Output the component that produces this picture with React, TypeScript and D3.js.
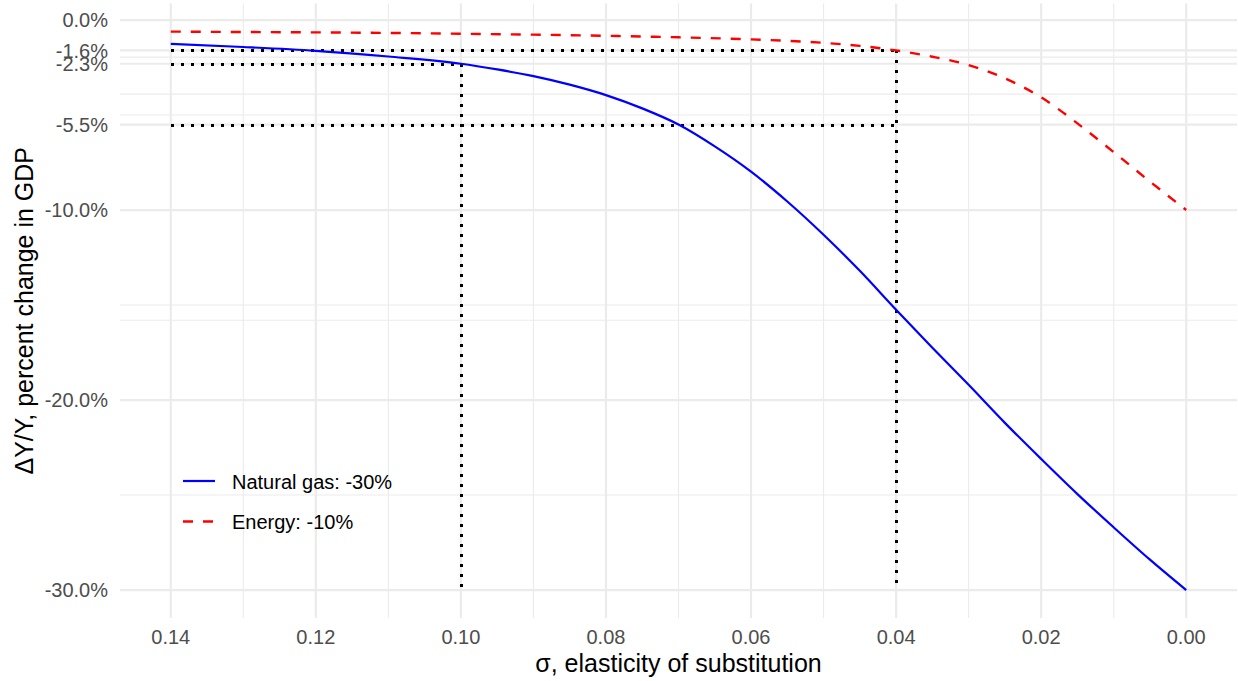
import React from "react";
import * as d3 from "d3";

// ---- data ----
const sigmaGas = [0.14, 0.13, 0.12, 0.11, 0.1, 0.095, 0.09, 0.085, 0.08, 0.075, 0.07, 0.065, 0.06, 0.055, 0.05, 0.045, 0.04, 0.035, 0.03, 0.025, 0.02, 0.015, 0.01, 0.005, 0.0];
const gasValues = [-1.26, -1.42, -1.62, -1.92, -2.3, -2.6, -2.95, -3.4, -3.95, -4.65, -5.5, -6.65, -7.98, -9.55, -11.3, -13.2, -15.25, -17.25, -19.2, -21.2, -23.1, -24.95, -26.7, -28.4, -30.0];

const sigmaEnergy = [0.14, 0.13, 0.12, 0.11, 0.1, 0.09, 0.08, 0.07, 0.06, 0.05, 0.045, 0.04, 0.035, 0.03, 0.025, 0.02, 0.015, 0.01, 0.005, 0.0];
const energyValues = [-0.61, -0.63, -0.65, -0.68, -0.72, -0.77, -0.83, -0.91, -1.02, -1.2, -1.36, -1.6, -1.93, -2.37, -3.07, -4.07, -5.44, -6.95, -8.5, -10.0];

const seriesLabels = ["Natural gas: -30%", "Energy: -10%"];

// y axis breaks, in the order given (minor grid = midpoints between consecutive)
const yBreaks = [0, -10, -20, -30, -1.6, -2.3, -5.5];
const xBreaks = [0.14, 0.12, 0.1, 0.08, 0.06, 0.04, 0.02, 0.0];
const xMinor = [0.13, 0.11, 0.09, 0.07, 0.05, 0.03, 0.01];

// reference segments: [x0, y0, x1, y1]
const refH = [
  [0.14, -1.6, 0.04, -1.6],
  [0.14, -2.3, 0.1, -2.3],
  [0.14, -5.5, 0.04, -5.5],
];
const refV = [
  [0.1, -2.3, 0.1, -30],
  [0.04, -1.6, 0.04, -30],
];

const W = 1238;
const H = 681;
const FONT = "'Liberation Sans', Arial, Helvetica, sans-serif";

export default function App() {
  const x = d3.scaleLinear().domain([0.147, -0.007]).range([120, 1237]);
  const y = d3.scaleLinear().domain([0.87, -31.47]).range([3.5, 618]);
  const [px0, px1] = x.range();
  const [py0, py1] = y.range();

  const yMinor: number[] = [];
  for (let i = 0; i < yBreaks.length - 1; i++) {
    yMinor.push((yBreaks[i] + yBreaks[i + 1]) / 2);
  }

  const line = d3
    .line<[number, number]>()
    .x((d) => x(d[0]))
    .y((d) => y(d[1]))
    .curve(d3.curveMonotoneX);

  const gasPts = sigmaGas.map((s, i) => [s, gasValues[i]] as [number, number]);
  const enPts = sigmaEnergy.map((s, i) => [s, energyValues[i]] as [number, number]);

  const fmtY = (v: number) => v.toFixed(1) + "%";
  const fmtX = (v: number) => v.toFixed(2);

  const grid = "#EBEBEB";

  return (
    <svg
      width={W}
      height={H}
      style={{ position: "absolute", left: 0, top: 0, background: "#fff" }}
      fontFamily={FONT}
    >
      {/* minor grid */}
      {yMinor.map((v, i) => (
        <line key={"ym" + i} x1={px0} x2={px1} y1={y(v)} y2={y(v)} stroke={grid} strokeWidth={1.1} />
      ))}
      {xMinor.map((v, i) => (
        <line key={"xm" + i} x1={x(v)} x2={x(v)} y1={py0} y2={py1} stroke={grid} strokeWidth={1.1} />
      ))}
      {/* major grid */}
      {yBreaks.map((v, i) => (
        <line key={"yM" + i} x1={px0} x2={px1} y1={y(v)} y2={y(v)} stroke={grid} strokeWidth={2.2} />
      ))}
      {xBreaks.map((v, i) => (
        <line key={"xM" + i} x1={x(v)} x2={x(v)} y1={py0} y2={py1} stroke={grid} strokeWidth={2.2} />
      ))}

      {/* reference dotted lines */}
      {[...refH, ...refV].map((r, i) => (
        <line
          key={"ref" + i}
          x1={Math.round(x(r[0]))}
          y1={Math.round(y(r[1]))}
          x2={Math.round(x(r[2]))}
          y2={Math.round(y(r[3]))}
          stroke="#000"
          strokeWidth={3}
          strokeDasharray="3,7"
          shapeRendering="crispEdges"
        />
      ))}

      {/* series */}
      <path d={line(gasPts) || ""} fill="none" stroke="#0000FF" strokeWidth={2.2} />
      <path d={line(enPts) || ""} fill="none" stroke="#FF0000" strokeWidth={2.4} strokeDasharray="10,10" />

      {/* y tick labels */}
      {yBreaks.map((v, i) => (
        <text key={"yl" + i} x={108} y={y(v)} dy="0.36em" textAnchor="end" fontSize={20} fill="#4D4D4D">
          {fmtY(v)}
        </text>
      ))}
      {/* x tick labels */}
      {xBreaks.map((v, i) => (
        <text key={"xl" + i} x={x(v)} y={644} textAnchor="middle" fontSize={20} fill="#4D4D4D">
          {fmtX(v)}
        </text>
      ))}

      {/* axis titles */}
      <text x={(px0 + px1) / 2} y={672} textAnchor="middle" fontSize={25} fill="#000">
        σ, elasticity of substitution
      </text>
      <text
        transform={`translate(33, ${(py0 + py1) / 2}) rotate(-90)`}
        textAnchor="middle"
        fontSize={25}
        fill="#000"
      >
        ΔY/Y, percent change in GDP
      </text>

      {/* legend */}
      <line x1={183} x2={215} y1={481} y2={481} stroke="#0000FF" strokeWidth={2.2} />
      <line x1={183} x2={215} y1={521.5} y2={521.5} stroke="#FF0000" strokeWidth={2.4} strokeDasharray="10,10" />
      <text x={232} y={488.5} fontSize={20} fill="#000">
        {seriesLabels[0]}
      </text>
      <text x={232} y={529} fontSize={20} fill="#000">
        {seriesLabels[1]}
      </text>
    </svg>
  );
}
